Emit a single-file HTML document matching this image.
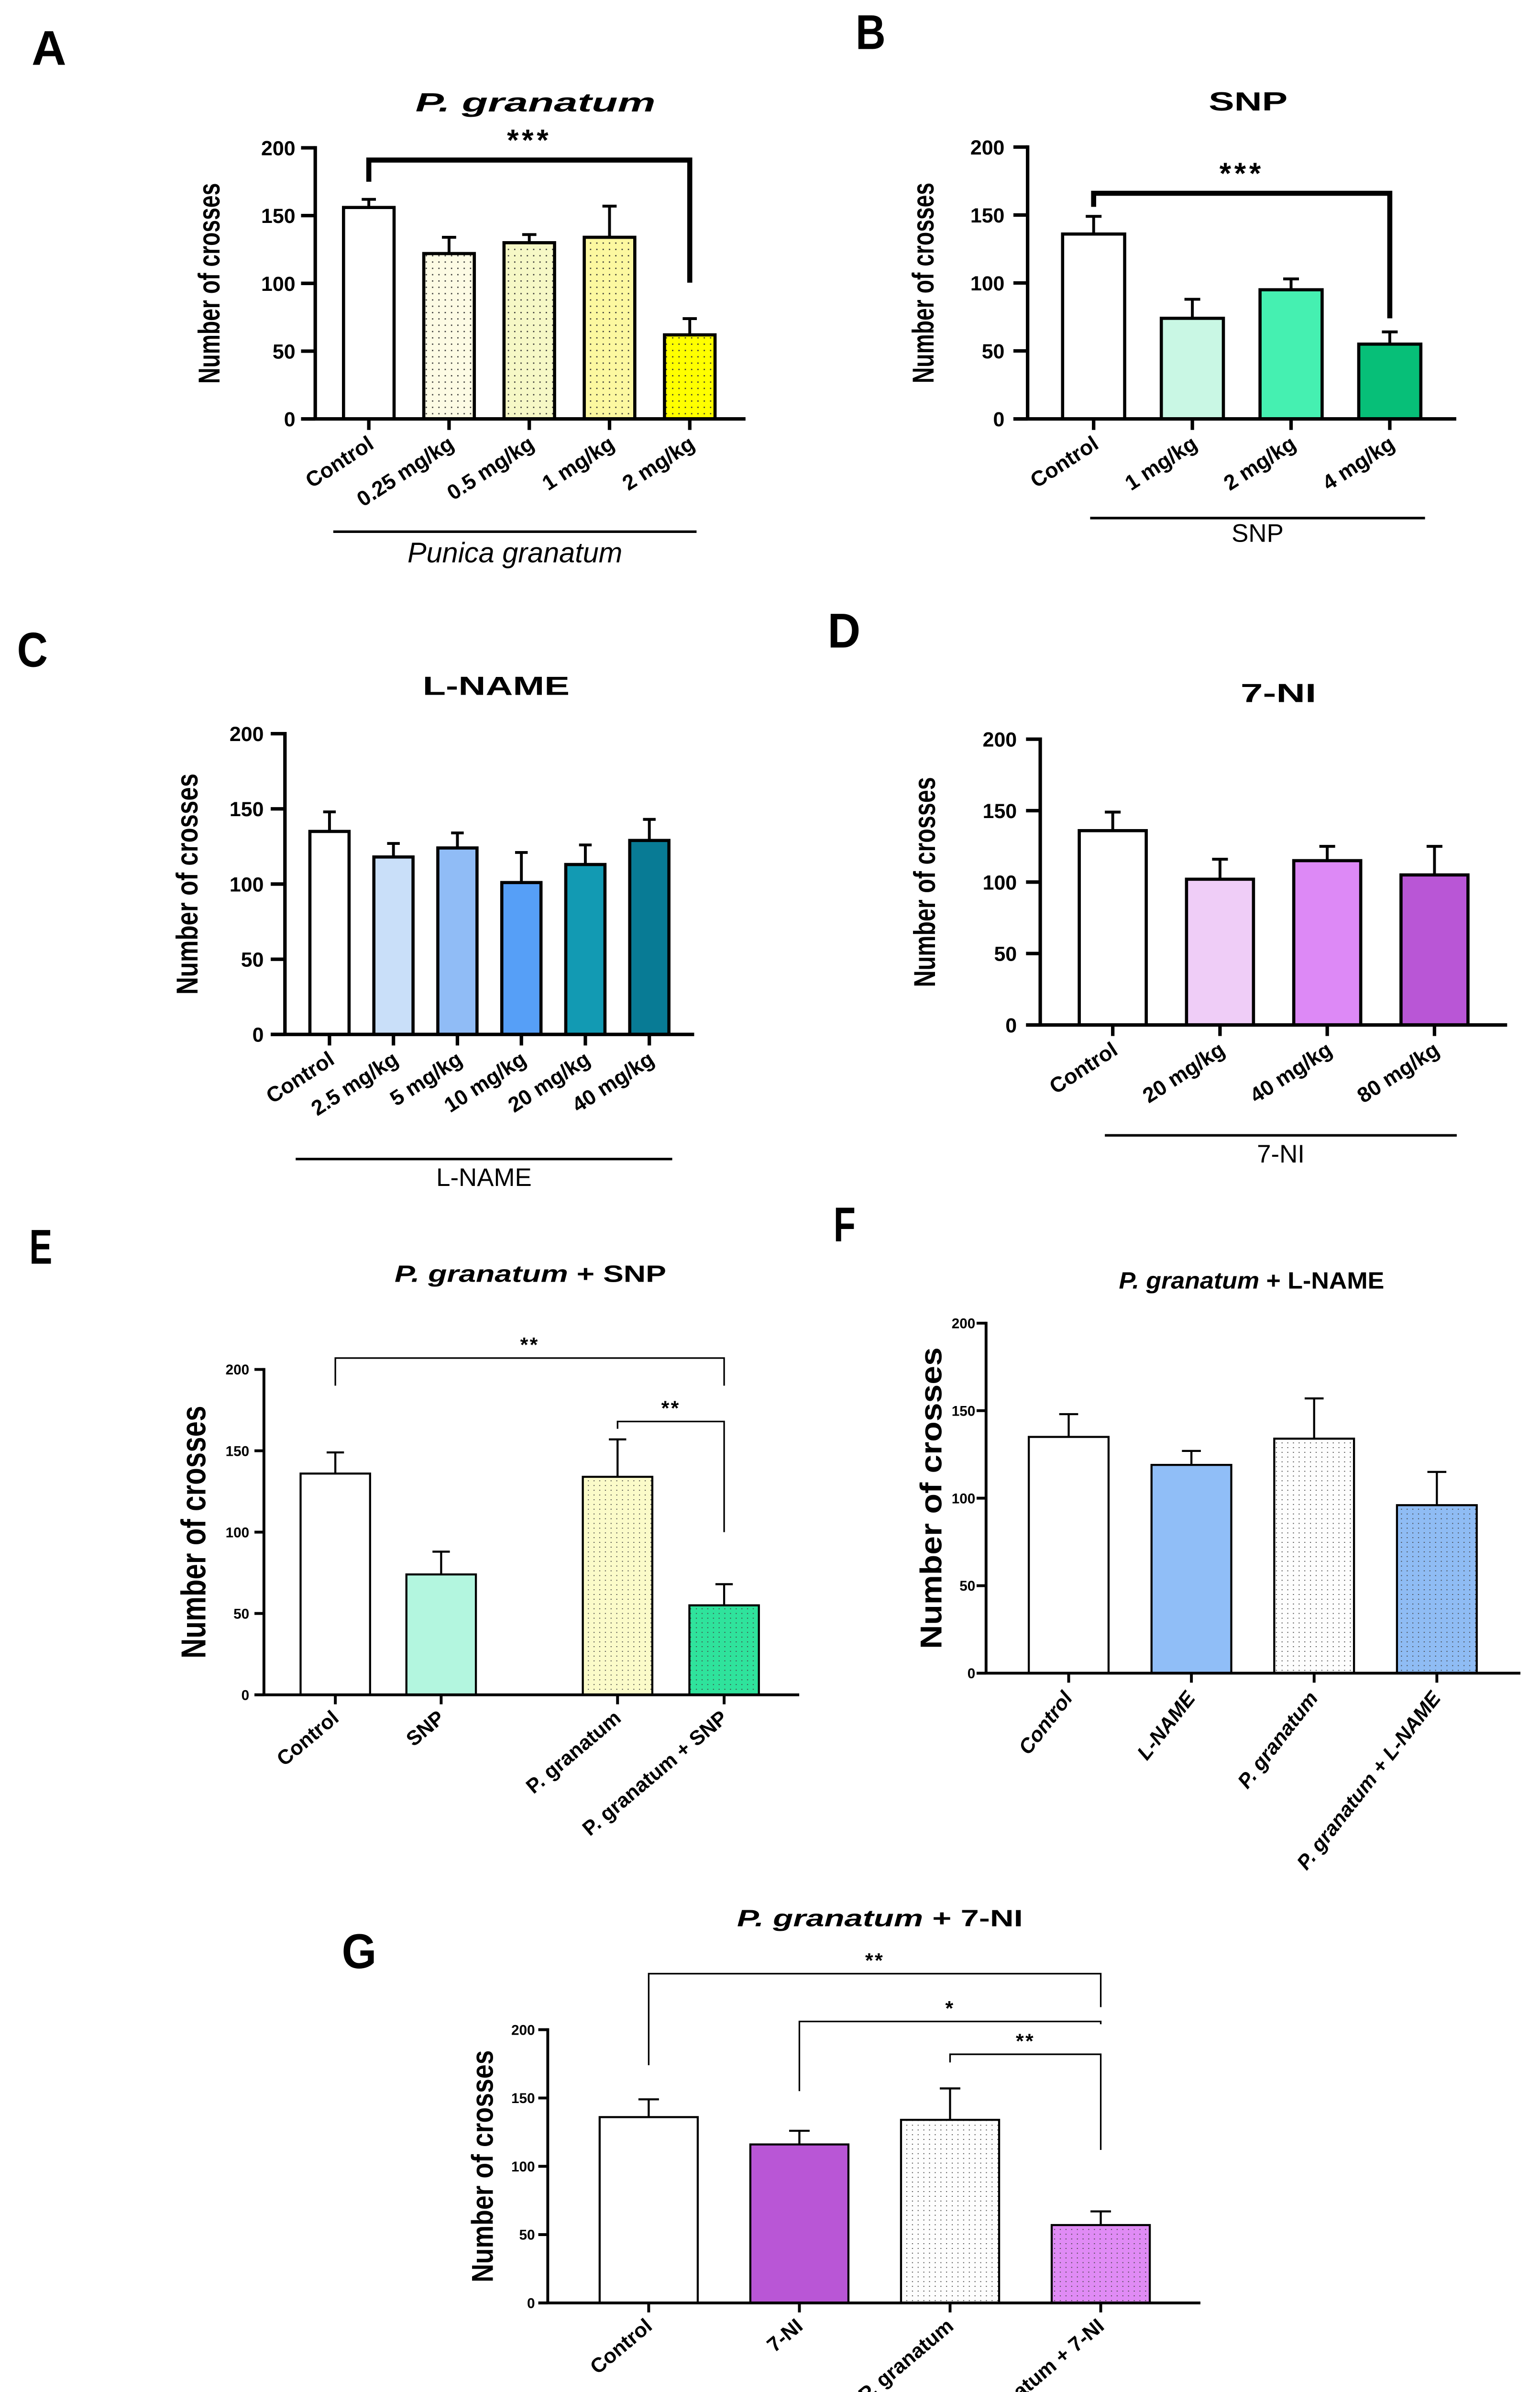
<!DOCTYPE html>
<html><head><meta charset="utf-8"><style>
html,body{margin:0;padding:0;background:#fff;width:3220px;height:5177px;overflow:hidden;}
svg{display:block;position:absolute;left:0;top:0;}
text{font-family:"Liberation Sans",sans-serif;}
</style></head><body>
<svg id="fig" xmlns="http://www.w3.org/2000/svg" width="3220" height="5177" viewBox="0 0 975 1568" preserveAspectRatio="none" overflow="hidden">
<defs>
<pattern id="dotsA" width="4" height="4" patternUnits="userSpaceOnUse"><rect x="1.5" y="1.5" width="0.8" height="0.8" fill="#333"/></pattern>
<pattern id="dotsE" width="3.6" height="3" patternUnits="userSpaceOnUse"><rect x="1.4" y="1.2" width="0.6" height="0.6" fill="#444"/></pattern>
</defs>
<rect x="0" y="0" width="975" height="1568" fill="#fff"/>
</svg>
<script>
// ---- data ----
const ticks = [0, 50, 100, 150, 200];
const A_categories = ["Control", "0.25 mg/kg", "0.5 mg/kg", "1 mg/kg", "2 mg/kg"];
const A_means = [156, 122, 130, 134, 62];
const A_errors = [6, 12, 6, 23, 12];
const B_categories = ["Control", "1 mg/kg", "2 mg/kg", "4 mg/kg"];
const B_means = [136, 74, 95, 55];
const B_errors = [13, 14, 8, 9];
const C_categories = ["Control", "2.5 mg/kg", "5 mg/kg", "10 mg/kg", "20 mg/kg", "40 mg/kg"];
const C_means = [135, 118, 124, 101, 113, 129];
const C_errors = [13, 9, 10, 20, 13, 14];
const D_categories = ["Control", "20 mg/kg", "40 mg/kg", "80 mg/kg"];
const D_means = [136, 102, 115, 105];
const D_errors = [13, 14, 10, 20];
const E_categories = ["Control", "SNP", "P. granatum", "P. granatum + SNP"];
const E_means = [136, 74, 134, 55];
const E_errors = [13, 14, 23, 13];
const F_categories = ["Control", "L-NAME", "P. granatum", "P. granatum  + L-NAME"];
const F_means = [135, 119, 134, 96];
const F_errors = [13, 8, 23, 19];
const G_categories = ["Control", "7-NI", "P. granatum", "P. granatum + 7-NI"];
const G_means = [136, 116, 134, 57];
const G_errors = [13, 10, 23, 10];
const A_sig = [[0, 4, 191, 175, 100.5, "***"]];
const B_sig = [[0, 3, 166, 156, 74, "***"]];
const E_sig = [[0, 3, 207, 190, 190, "**"], [2, 3, 168, 163.5, 100, "**"]];
const G_sig = [[0, 3, 241, 174, 216.5, "**"], [1, 3, 206, 155, 204, "*"], [2, 3, 182, 176, 112, "**"]];

const NS = "http://www.w3.org/2000/svg";
const svg = document.getElementById("fig");
function mk(tag, attrs, parent) {
  const e = document.createElementNS(NS, tag);
  for (const k in attrs) e.setAttribute(k, attrs[k]);
  (parent || svg).appendChild(e);
  return e;
}
function txt(str, attrs, parent) { const t = mk("text", attrs, parent); t.textContent = str; return t; }

function panel(p) {
  const g = mk("g", {});
  
  
  const yS = v => p.y0 - (v / 200) * (p.y0 - p.y200);
  const xS = i => p.x0 + p.slots[i] * p.step;
  const L = txt(p.id, {x: p.lx, y: p.ly, "font-size": 31, "font-weight": "bold", fill: "#000", textLength: p.lw, lengthAdjust: "spacingAndGlyphs"}, g);
  
  
  const T = mk("text", {x: p.tx, y: p.ty, "text-anchor": "middle", "font-size": p.tfs, "font-weight": "bold", fill: "#000", textLength: p.tl, lengthAdjust: "spacingAndGlyphs"}, g);
  
  
  p.title.forEach(([s, it]) => { const ts = mk("tspan", it ? {"font-style": "italic"} : {}, T); ts.textContent = s; });
  const cats = p.cats;
  cats.forEach((c, i) => {
    const cx = xS(i), top = yS(p.means[i]), bw = p.bw;
    const r = mk("rect", {x: cx - bw / 2, y: top, width: bw, height: p.y0 - top, fill: p.colors[i], stroke: "none"}, g);
    
    
    if (p.dots[i]) {
      const d = mk("rect", {x: cx - bw / 2, y: top, width: bw, height: p.y0 - top, fill: "url(#" + p.dots[i] + ")"}, g);
      
      
    }
    const o = mk("rect", {x: cx - bw / 2, y: top, width: bw, height: p.y0 - top, fill: "none", stroke: "#000", "stroke-width": p.bsw}, g);
    
    
    const et = yS(p.means[i] + p.errs[i]);
    const eb = mk("path", {d: `M${cx},${top} V${et} M${cx - p.cap},${et} H${cx + p.cap}`, stroke: "#000", "stroke-width": p.esw, fill: "none"}, g);
    
    
    const xt = mk("line", {x1: cx, y1: p.y0, x2: cx, y2: p.y0 + p.tlen, stroke: "#000", "stroke-width": p.asw}, g);
    
    
    const lx = cx + p.lbdx, ly = p.y0 + p.lbdy;
    const xl = txt(c, {x: lx, y: ly, "text-anchor": "end", "font-size": p.xfs, "font-weight": "bold", "font-style": p.xit ? "italic" : "normal", transform: `rotate(${-p.ang} ${lx} ${ly})`}, g);
    
    
  });
  const ya = mk("line", {x1: p.ax, y1: p.y200 - p.asw / 2, x2: p.ax, y2: p.y0, stroke: "#000", "stroke-width": p.asw}, g);
  
  
  const xa = mk("line", {x1: p.ax - p.ylen, y1: p.y0, x2: p.axEnd, y2: p.y0, stroke: "#000", "stroke-width": p.asw}, g);
  
  
  ticks.forEach(t => {
    const y = yS(t);
    const tl = mk("line", {x1: p.ax - p.ylen, y1: y, x2: p.ax, y2: y, stroke: "#000", "stroke-width": p.asw}, g);
    
    
    const lb = txt(String(t), {x: p.ytx, y: y + p.yfs * 0.36, "text-anchor": "end", "font-size": p.yfs, "font-weight": "bold"}, g);
    
    
  });
  const yl = txt("Number of crosses", {x: 0, y: 0, "text-anchor": "middle", "font-size": p.ylfs, "font-weight": "bold", textLength: p.yll, lengthAdjust: "spacingAndGlyphs", transform: `translate(${p.ylx} ${(p.y0 + p.y200) / 2 + p.yldy}) rotate(-90)`}, g);
  
  
  if (p.grp) {
    const ul = mk("line", {x1: p.grp[0], y1: p.grp[2], x2: p.grp[1], y2: p.grp[2], stroke: "#000", "stroke-width": 1.6}, g);
    
    
    const gl = txt(p.grp[3], {x: (p.grp[0] + p.grp[1]) / 2 + p.grp[6], y: p.grp[4], "text-anchor": "middle", "font-size": p.grp[5], "font-style": p.grp[7] ? "italic" : "normal"}, g);
    
    
  }
  (p.sig || []).forEach(s => {
    const x1 = xS(s[0]), x2 = xS(s[1]), yt = yS(s[2]);
    const br = mk("path", {d: `M${x1},${yS(s[3])} V${yt} H${x2} V${yS(s[4])}`, fill: "none", stroke: "#000", "stroke-width": p.ssw}, g);
    
    
    const st = txt(s[5], {x: (x1 + x2) / 2, y: yt - p.sdy, "text-anchor": "middle", "font-size": p.sfs, "font-weight": "bold", "letter-spacing": p.sls}, g);
    
    
  });
}

const big = {asw: 2.2, bsw: 2, esw: 1.8, tlen: 7, ylen: 9, yfs: 13, xfs: 13.5, ang: 33, lbdx: 4, lbdy: 18, ssw: 3.2, sfs: 19, sdy: 6, sls: 2, xit: false, tfs: 16.5};
const small = {asw: 1.8, bsw: 1.3, esw: 1.3, tlen: 6, ylen: 6, yfs: 9, xfs: 13, ang: 40, lbdx: 3, lbdy: 16, ssw: 1, sfs: 13, sdy: 4, sls: 1, xit: false, tfs: 15};

panel(Object.assign({}, big, {id: "A", lx: 20, ly: 41, lw: 22, title: [["P. granatum", true]], tx: 339, ty: 70.5, tl: 152,
  cats: A_categories, means: A_means, errs: A_errors, sig: A_sig,
  colors: ["#fff", "#fdfbe4", "#f6f8c6", "#fcf8a0", "#ffff00"], dots: [null, "dotsA", "dotsA", "dotsA", "dotsA"],
  x0: 233.5, step: 50.8, slots: [0, 1, 2, 3, 4], bw: 32, cap: 4.5, y0: 265.2, y200: 93.6, ax: 199.6, axEnd: 472, ytx: 187, ylfs: 19, yll: 127, ylx: 139, yldy: 0,
  grp: [211, 441, 336.6, "Punica granatum", 356, 18, 0, true]}));
panel(Object.assign({}, big, {id: "B", lx: 541.7, ly: 31, lw: 19, title: [["SNP", false]], tx: 790.2, ty: 70, tl: 50,
  cats: B_categories, means: B_means, errs: B_errors, sig: B_sig,
  colors: ["#fff", "#c9f7e4", "#45f0b1", "#07bf78"], dots: [null, null, null, null],
  x0: 692.4, step: 62.5, slots: [0, 1, 2, 3], bw: 39.3, cap: 5, y0: 265.2, y200: 93.1, ax: 650.6, axEnd: 922, ytx: 636, ylfs: 19, yll: 127, ylx: 591, yldy: 0,
  grp: [690.2, 902.2, 328, "SNP", 343, 16, 0, false]}));
panel(Object.assign({}, big, {id: "C", lx: 10.8, ly: 422, lw: 19.5, title: [["L-NAME", false]], tx: 314.1, ty: 440, tl: 93,
  cats: C_categories, means: C_means, errs: C_errors, sig: [],
  colors: ["#fff", "#c9dff9", "#90bcf6", "#569ff7", "#129ab3", "#087b95"], dots: [null, null, null, null, null, null],
  x0: 208.6, step: 40.5, slots: [0, 1, 2, 3, 4, 5], bw: 24.8, cap: 4, y0: 654.9, y200: 464.5, ax: 180.4, axEnd: 439.5, ytx: 167, ylfs: 19, yll: 140, ylx: 125, yldy: 0,
  grp: [187.2, 425.6, 733.8, "L-NAME", 750.8, 16, 0, false]}));
panel(Object.assign({}, big, {id: "D", lx: 524, ly: 410, lw: 20.8, title: [["7-NI", false]], tx: 809.4, ty: 444.4, tl: 48,
  cats: D_categories, means: D_means, errs: D_errors, sig: [],
  colors: ["#fff", "#efcdf7", "#dd89f6", "#b956d6"], dots: [null, null, null, null],
  x0: 704.5, step: 67.9, slots: [0, 1, 2, 3], bw: 42.4, cap: 5, y0: 648.9, y200: 468, ax: 658.6, axEnd: 954.2, ytx: 643.8, ylfs: 19, yll: 133, ylx: 592, yldy: 0,
  grp: [699.5, 922.3, 718.8, "7-NI", 736, 16, 0, false]}));
panel(Object.assign({}, small, {id: "E", lx: 18.6, ly: 800, lw: 14.5, title: [["P. granatum", true], [" + SNP", false]], tx: 335.8, ty: 811.6, tl: 172,
  cats: E_categories, means: E_means, errs: E_errors, sig: E_sig,
  colors: ["#fff", "#b3f6df", "#fbfbc9", "#2fe39c"], dots: [null, null, "dotsE", "dotsE"],
  x0: 212.3, step: 67.0, slots: [0, 1, 2.667, 3.674], bw: 44, cap: 5.5, y0: 1073, y200: 867, ax: 167.1, axEnd: 506, ytx: 157.8, ylfs: 22, yll: 160, ylx: 130, yldy: 0, ylen: 6}));
panel(Object.assign({}, small, {id: "F", lx: 527.7, ly: 786, lw: 14, title: [["P. granatum", true], [" + L-NAME", false]], tx: 792.4, ty: 815.8, tl: 168,
  cats: F_categories, means: F_means, errs: F_errors, sig: [], xit: true, ang: 52,
  colors: ["#fff", "#90bef7", "#fdfdfd", "#8fbcf4"], dots: [null, null, "dotsE", "dotsE"],
  x0: 676.6, step: 77.7, slots: [0, 1, 2, 3], bw: 50.5, cap: 6, y0: 1059.3, y200: 837.7, ax: 624.3, axEnd: 962.6, ytx: 617.5, ylfs: 19, yll: 191, ylx: 596, yldy: 0}));
panel(Object.assign({}, small, {id: "G", lx: 216.4, ly: 1246, lw: 22, title: [["P. granatum", true], [" + 7-NI", false]], tx: 557.1, ty: 1219.6, tl: 181,
  cats: G_categories, means: G_means, errs: G_errors, sig: G_sig,
  colors: ["#fff", "#b956d6", "#fdfdfd", "#e08bf5"], dots: [null, null, "dotsE", "dotsE"],
  x0: 410.7, step: 95.4, slots: [0, 1, 2, 3], bw: 62.1, cap: 6.5, y0: 1458, y200: 1285, ax: 346.8, axEnd: 760, ytx: 338.7, ylfs: 19, yll: 147, ylx: 312, yldy: 0}));
</script>
</body></html>
